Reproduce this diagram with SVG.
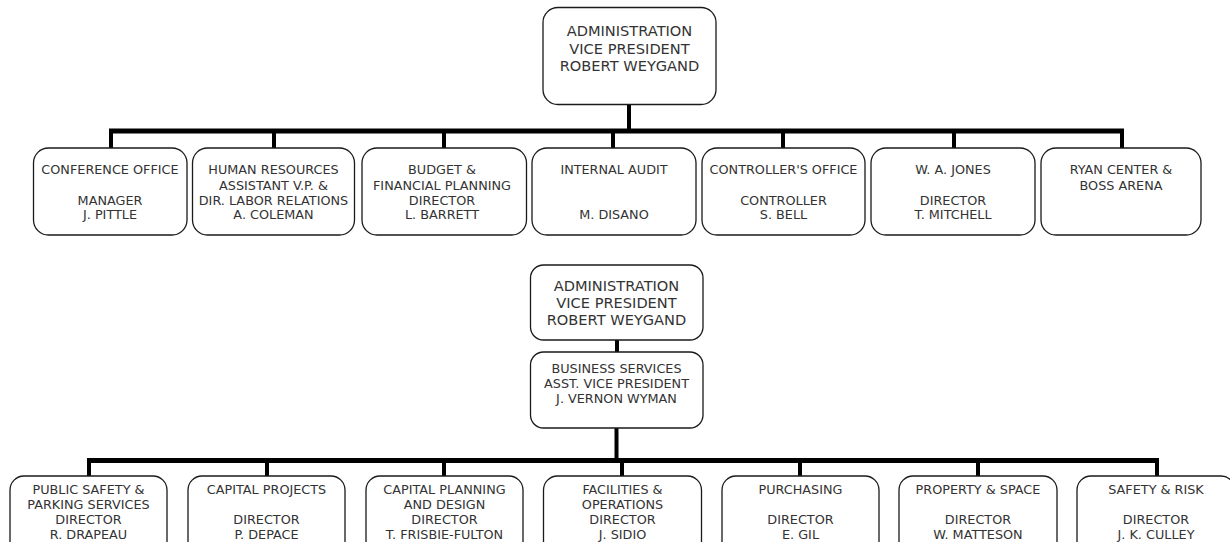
<svg xmlns="http://www.w3.org/2000/svg" width="1230" height="542" viewBox="0 0 1230 542">
<style>
.box{fill:#fff;stroke:#1a1a1a;stroke-width:1.3}
.t{font-family:"DejaVu Sans",Verdana,sans-serif;font-size:12.8px;fill:#333;text-anchor:middle}
.tl{font-family:"DejaVu Sans",Verdana,sans-serif;font-size:14.6px;fill:#333;text-anchor:middle}
.bar{stroke:#000;stroke-width:5;fill:none}
.drop{stroke:#000;stroke-width:4;fill:none}
</style>
<rect width="1230" height="542" fill="#fff"/>
<g id="connectors">
<line class="drop" x1="629" y1="104" x2="629" y2="131"/>
<line class="bar" x1="109" y1="131" x2="1124" y2="131"/>
<line class="drop" x1="111" y1="131" x2="111" y2="148"/>
<line class="drop" x1="274" y1="131" x2="274" y2="148"/>
<line class="drop" x1="444" y1="131" x2="444" y2="148"/>
<line class="drop" x1="613" y1="131" x2="613" y2="148"/>
<line class="drop" x1="783" y1="131" x2="783" y2="148"/>
<line class="drop" x1="954" y1="131" x2="954" y2="148"/>
<line class="drop" x1="1122" y1="131" x2="1122" y2="148"/>
<line class="drop" x1="617" y1="340" x2="617" y2="352"/>
<line class="drop" x1="616.5" y1="428" x2="616.5" y2="460"/>
<line class="bar" x1="87" y1="460.5" x2="1159" y2="460.5"/>
<line class="drop" x1="89" y1="460" x2="89" y2="476"/>
<line class="drop" x1="267" y1="460" x2="267" y2="476"/>
<line class="drop" x1="444" y1="460" x2="444" y2="476"/>
<line class="drop" x1="622" y1="460" x2="622" y2="476"/>
<line class="drop" x1="800" y1="460" x2="800" y2="476"/>
<line class="drop" x1="978" y1="460" x2="978" y2="476"/>
<line class="drop" x1="1157" y1="460" x2="1157" y2="476"/>
</g>
<g id="vp-top">
<rect class="box" x="543" y="7.5" width="173" height="97" rx="15"/>
<text class="tl" x="629.5" y="36">ADMINISTRATION</text>
<text class="tl" x="629.5" y="53.5">VICE PRESIDENT</text>
<text class="tl" x="629.5" y="71">ROBERT WEYGAND</text>
</g>
<g id="conference">
<rect class="box" x="33.5" y="148" width="153.5" height="87" rx="15"/>
<text class="t" x="110" y="174">CONFERENCE OFFICE</text>
<text class="t" x="110" y="204.5">MANAGER</text>
<text class="t" x="110" y="219">J. PITTLE</text>
</g>
<g id="hr">
<rect class="box" x="192.5" y="148" width="162" height="87" rx="15"/>
<text class="t" x="273.5" y="174">HUMAN RESOURCES</text>
<text class="t" x="273.5" y="189.5">ASSISTANT V.P. &amp;</text>
<text class="t" x="273.5" y="204.5">DIR. LABOR RELATIONS</text>
<text class="t" x="273.5" y="219">A. COLEMAN</text>
</g>
<g id="budget">
<rect class="box" x="362" y="148" width="164.5" height="87" rx="15"/>
<text class="t" x="442" y="174">BUDGET &amp;</text>
<text class="t" x="442" y="189.5">FINANCIAL PLANNING</text>
<text class="t" x="442" y="204.5">DIRECTOR</text>
<text class="t" x="442" y="219">L. BARRETT</text>
</g>
<g id="audit">
<rect class="box" x="532" y="148" width="164" height="87" rx="15"/>
<text class="t" x="614" y="174">INTERNAL AUDIT</text>
<text class="t" x="614" y="219">M. DISANO</text>
</g>
<g id="controller">
<rect class="box" x="702" y="148" width="163" height="87" rx="15"/>
<text class="t" x="783.5" y="174">CONTROLLER'S OFFICE</text>
<text class="t" x="783.5" y="204.5">CONTROLLER</text>
<text class="t" x="783.5" y="219">S. BELL</text>
</g>
<g id="wajones">
<rect class="box" x="871" y="148" width="164" height="87" rx="15"/>
<text class="t" x="953" y="174">W. A. JONES</text>
<text class="t" x="953" y="204.5">DIRECTOR</text>
<text class="t" x="953" y="219">T. MITCHELL</text>
</g>
<g id="ryan">
<rect class="box" x="1041" y="148" width="160" height="87" rx="15"/>
<text class="t" x="1121" y="174">RYAN CENTER &amp;</text>
<text class="t" x="1121" y="189.5">BOSS ARENA</text>
</g>
<g id="vp-bottom">
<rect class="box" x="530.5" y="265" width="172.5" height="75" rx="13"/>
<text class="tl" x="616.5" y="291">ADMINISTRATION</text>
<text class="tl" x="616.5" y="308">VICE PRESIDENT</text>
<text class="tl" x="616.5" y="325">ROBERT WEYGAND</text>
</g>
<g id="business">
<rect class="box" x="530.5" y="352" width="172.5" height="76" rx="13"/>
<text class="t" x="616.5" y="373">BUSINESS SERVICES</text>
<text class="t" x="616.5" y="388">ASST. VICE PRESIDENT</text>
<text class="t" x="616.5" y="402.5">J. VERNON WYMAN</text>
</g>
<g id="publicsafety">
<rect class="box" x="10" y="476" width="157" height="90" rx="14"/>
<text class="t" x="88.5" y="494">PUBLIC SAFETY &amp;</text>
<text class="t" x="88.5" y="509">PARKING SERVICES</text>
<text class="t" x="88.5" y="524">DIRECTOR</text>
<text class="t" x="88.5" y="539">R. DRAPEAU</text>
</g>
<g id="capitalprojects">
<rect class="box" x="188" y="476" width="157" height="90" rx="14"/>
<text class="t" x="266.5" y="494">CAPITAL PROJECTS</text>
<text class="t" x="266.5" y="524">DIRECTOR</text>
<text class="t" x="266.5" y="539">P. DEPACE</text>
</g>
<g id="capitalplanning">
<rect class="box" x="366" y="476" width="157" height="90" rx="14"/>
<text class="t" x="444.5" y="494">CAPITAL PLANNING</text>
<text class="t" x="444.5" y="509">AND DESIGN</text>
<text class="t" x="444.5" y="524">DIRECTOR</text>
<text class="t" x="444.5" y="539">T. FRISBIE-FULTON</text>
</g>
<g id="facilities">
<rect class="box" x="543.5" y="476" width="158" height="90" rx="14"/>
<text class="t" x="622.5" y="494">FACILITIES &amp;</text>
<text class="t" x="622.5" y="509">OPERATIONS</text>
<text class="t" x="622.5" y="524">DIRECTOR</text>
<text class="t" x="622.5" y="539">J. SIDIO</text>
</g>
<g id="purchasing">
<rect class="box" x="722" y="476" width="157" height="90" rx="14"/>
<text class="t" x="800.5" y="494">PURCHASING</text>
<text class="t" x="800.5" y="524">DIRECTOR</text>
<text class="t" x="800.5" y="539">E. GIL</text>
</g>
<g id="property">
<rect class="box" x="899" y="476" width="158" height="90" rx="14"/>
<text class="t" x="978" y="494">PROPERTY &amp; SPACE</text>
<text class="t" x="978" y="524">DIRECTOR</text>
<text class="t" x="978" y="539">W. MATTESON</text>
</g>
<g id="safetyrisk">
<rect class="box" x="1077" y="476" width="158" height="90" rx="14"/>
<text class="t" x="1156" y="494">SAFETY &amp; RISK</text>
<text class="t" x="1156" y="524">DIRECTOR</text>
<text class="t" x="1156" y="539">J. K. CULLEY</text>
</g>
</svg>
